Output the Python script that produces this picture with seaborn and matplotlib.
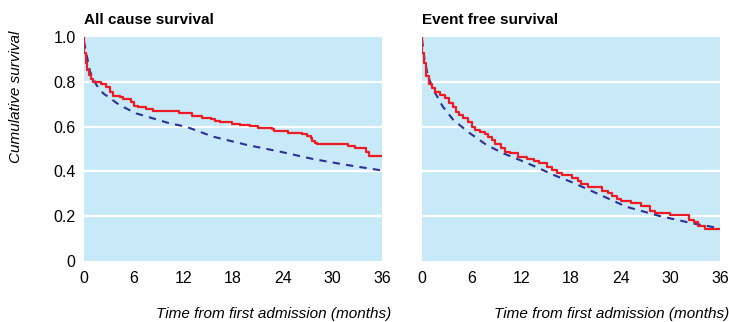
import numpy as np
import pandas as pd
import matplotlib
matplotlib.use("Agg")
import matplotlib.pyplot as plt
import seaborn as sns

# All cause survival: Kaplan-Meier steps (months, survival)
all_km_t = [0, 0.05, 0.3, 0.4, 0.65, 0.9, 1.1, 2.1, 2.7, 3.1, 3.5, 4.3, 4.7, 5.7, 6.1,
            6.5, 7.5, 8.3, 11.5, 13.1, 14.2, 15.3, 15.8, 16.4, 17.9, 18.9, 20.0, 21.0,
            22.7, 23.0, 24.6, 26.3, 26.9, 27.4, 27.6, 27.9, 28.1, 31.9, 32.7, 34.1, 34.4, 36]
all_km_s = [1.0, 0.927, 0.883, 0.853, 0.830, 0.811, 0.798, 0.789, 0.778, 0.756, 0.737,
            0.731, 0.723, 0.711, 0.692, 0.686, 0.679, 0.671, 0.662, 0.647, 0.640, 0.633,
            0.625, 0.619, 0.612, 0.607, 0.603, 0.595, 0.588, 0.582, 0.573, 0.567, 0.559,
            0.548, 0.536, 0.525, 0.522, 0.513, 0.503, 0.488, 0.469, 0.469]

# All cause survival: expected (dashed)
all_exp_t = [0, 0.2, 0.73, 1.5, 2.3, 4.3, 6.3, 8.3, 10.3, 12.3, 15.6, 19.7, 23.7, 27.7, 31.7, 36]
all_exp_s = [0.98, 0.942, 0.845, 0.786, 0.749, 0.696, 0.659, 0.637, 0.615, 0.600, 0.555,
             0.518, 0.488, 0.455, 0.429, 0.404]

# Event free survival: Kaplan-Meier steps
ev_km_t = [0, 0.05, 0.3, 0.5, 0.8, 1.2, 1.6, 2.2, 2.8, 3.3, 3.7, 4.1, 4.5, 5.0, 5.6, 6.0,
           6.4, 7.0, 7.6, 8.0, 8.4, 8.8, 9.6, 10.0, 10.6, 11.6, 12.7, 13.5, 14.1, 15.1,
           15.7, 16.3, 16.9, 18.1, 18.9, 19.2, 20.1, 21.8, 22.5, 22.9, 23.6, 24.1, 25.3,
           26.4, 27.5, 28.2, 29.9, 32.2, 32.8, 33.4, 34.2, 36]
ev_km_s = [1.0, 0.927, 0.882, 0.826, 0.790, 0.771, 0.756, 0.741, 0.726, 0.707, 0.689,
           0.667, 0.652, 0.637, 0.622, 0.600, 0.585, 0.574, 0.566, 0.552, 0.540, 0.522,
           0.503, 0.488, 0.481, 0.463, 0.455, 0.446, 0.436, 0.421, 0.406, 0.394, 0.384,
           0.372, 0.357, 0.345, 0.332, 0.314, 0.302, 0.292, 0.277, 0.269, 0.258, 0.246,
           0.225, 0.216, 0.207, 0.183, 0.174, 0.156, 0.141, 0.141]

# Event free survival: expected (dashed)
ev_exp_t = [0, 0.3, 0.7, 1.0, 1.4, 2.5, 3.8, 5.8, 7.8, 9.8, 11.8, 13.9, 15.9, 17.9, 20.7,
            24.7, 28.7, 32.7, 36]
ev_exp_s = [0.99, 0.90, 0.83, 0.80, 0.763, 0.69, 0.629, 0.570, 0.518, 0.481, 0.451, 0.418,
            0.384, 0.355, 0.309, 0.242, 0.201, 0.168, 0.146]

titles = ["All cause survival", "Event free survival"]
x_ticks = [0, 6, 12, 18, 24, 30, 36]
y_ticks = [0, 0.2, 0.4, 0.6, 0.8, 1.0]
y_ticklabels = ["0", "0.2", "0.4", "0.6", "0.8", "1.0"]

sns.set_style("white")
plt.rcParams['font.family'] = ['Liberation Sans Narrow', 'Liberation Sans', 'DejaVu Sans']
plt.rcParams['text.color'] = 'black'
plt.rcParams['xtick.labelcolor'] = 'black'
plt.rcParams['ytick.labelcolor'] = 'black'

bg = "#c8e9f8"
red = "#ed1c24"
navy = "#2e3192"

fig = plt.figure(figsize=(7.29, 3.22), dpi=100)
ax1 = fig.add_axes([84/729, 61/322, 298/729, 224/322])
ax2 = fig.add_axes([422/729, 61/322, 298/729, 224/322])

panels = [
    (ax1, all_km_t, all_km_s, all_exp_t, all_exp_s),
    (ax2, ev_km_t, ev_km_s, ev_exp_t, ev_exp_s),
]

for i, (ax, kt, ks, et, es) in enumerate(panels):
    ax.set_facecolor(bg)
    for yv in [0.2, 0.4, 0.6, 0.8]:
        ax.axhline(yv, color="white", lw=1.6, zorder=1)
    sns.lineplot(x=et, y=es, ax=ax, color=navy, lw=1.5, linestyle=(0, (3.5, 3)),
                 estimator=None, sort=False, zorder=3)
    sns.lineplot(x=kt, y=ks, ax=ax, color=red, lw=1.6, drawstyle="steps-post",
                 estimator=None, sort=False, zorder=4)
    ax.set_xlim(0, 36)
    ax.set_ylim(0, 1.0)
    ax.set_xticks(x_ticks)
    ax.set_xticklabels([str(t) for t in x_ticks], fontsize=11.5)
    ax.tick_params(axis="x", direction="in", length=3, width=1, color="white", pad=7)
    ax.set_yticks(y_ticks)
    if i == 0:
        ax.set_yticklabels(y_ticklabels, fontsize=11.5)
        ax.tick_params(axis="y", length=0, pad=6)
    else:
        ax.set_yticklabels([])
        ax.tick_params(axis="y", length=0)
    for sp in ax.spines.values():
        sp.set_visible(False)
    ax.set_xlabel("")
    ax.set_ylabel("")
    ax.text(0, 1.045, titles[i], transform=ax.transAxes, fontsize=11,
            fontweight="bold", ha="left", va="bottom")
    ax.text(1.03, -0.235, "Time from first admission (months)",
            transform=ax.transAxes, fontsize=11, style="italic", ha="right", va="center")

fig.text(16/729, 1 - 97/322, "Cumulative survival", rotation=90, fontsize=11,
         style="italic", ha="center", va="center")

fig.savefig("out.png", dpi=100)
